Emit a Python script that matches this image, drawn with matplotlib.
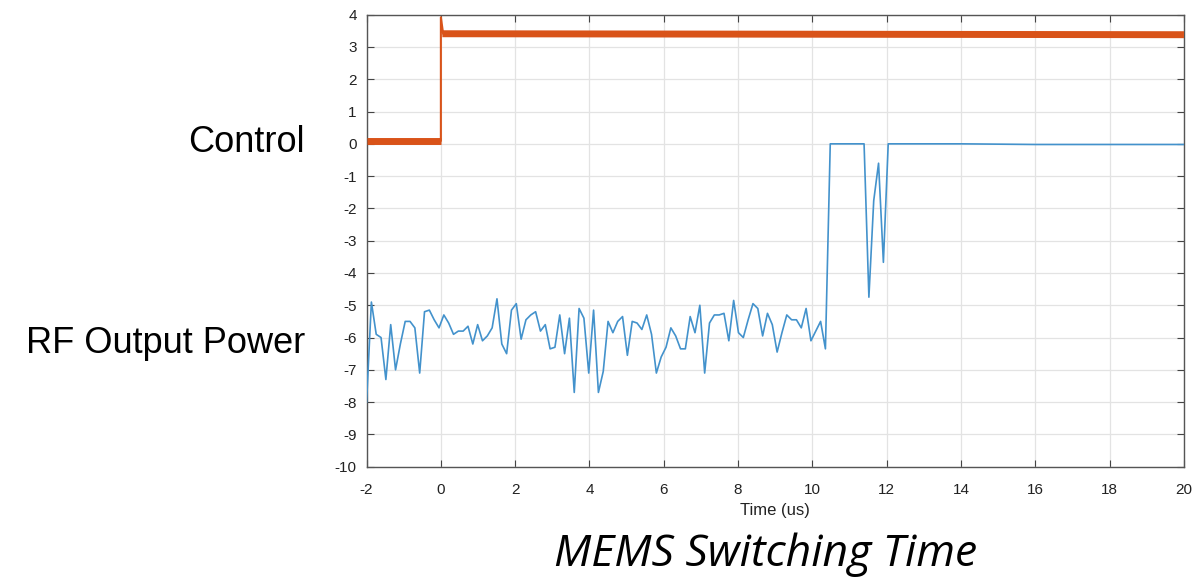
import numpy as np
import matplotlib
matplotlib.use("Agg")
import matplotlib.pyplot as plt

plt.rcParams["axes.unicode_minus"] = False

# ---- data ----
rf_t0 = -2.0
rf_dt = 0.13
rf_power = [
    -8.0, -4.9, -5.9, -6.0, -7.3, -5.6, -7.0, -6.2, -5.5, -5.5,
    -5.7, -7.1, -5.2, -5.15, -5.45, -5.7, -5.3, -5.55, -5.9, -5.8,
    -5.8, -5.65, -6.2, -5.6, -6.1, -5.95, -5.7, -4.8, -6.2, -6.5,
    -5.15, -4.95, -6.05, -5.45, -5.3, -5.2, -5.8, -5.6, -6.35, -6.3,
    -5.3, -6.5, -5.4, -7.7, -5.1, -5.4, -7.1, -5.15, -7.7,
    -7.05, -5.5, -5.85, -5.5, -5.35, -6.55, -5.5, -5.55, -5.75, -5.3,
    -5.9, -7.1, -6.6, -6.3, -5.7, -5.95, -6.35, -6.35, -5.35, -5.85,
    -5.0, -7.1, -5.55, -5.3, -5.3, -5.25, -6.1, -4.85, -5.85, -6.0,
    -5.45, -4.95, -5.1, -5.95, -5.25, -5.6, -6.45, -5.85, -5.3, -5.45,
    -5.45, -5.7, -5.1, -6.1, -5.8, -5.5, -6.35,
    0.0, 0.0, 0.0, 0.0, 0.0, 0.0, 0.0, 0.0,
    -4.75, -1.76, -0.6, -3.67, 0.0,
]
rf_tail_t = [14.0, 16.0, 18.0, 20.0]
rf_tail_v = [0.0, -0.02, -0.02, -0.02]

ctrl_low_t = [-2.0, 0.0]
ctrl_low_v = [0.1, 0.1]
ctrl_edge_t = [0.0, 0.0, 0.06]
ctrl_edge_v = [0.1, 3.92, 3.42]
ctrl_high_t = [0.04, 20.0]
ctrl_high_v = [3.41, 3.38]

x_ticks = list(range(-2, 21, 2))
y_ticks = list(range(-10, 5, 1))

# ---- figure ----
fig = plt.figure(figsize=(11.94, 5.83), dpi=100)
ax = fig.add_axes([0.307, 0.1995, 0.9916 - 0.307, 0.9748 - 0.1995])

rf_t = rf_t0 + rf_dt * np.arange(len(rf_power))
t_all = np.concatenate([rf_t, rf_tail_t])
v_all = np.concatenate([rf_power, rf_tail_v])

blue = "#4392cc"
orange = "#d95319"
ax.plot(t_all, v_all, color=blue, lw=1.2, zorder=3)
ax.plot(ctrl_low_t, ctrl_low_v, color=orange, lw=5, solid_capstyle="butt", zorder=4)
ax.plot(ctrl_high_t, ctrl_high_v, color=orange, lw=5, solid_capstyle="butt", zorder=4)
ax.plot(ctrl_edge_t, ctrl_edge_v, color=orange, lw=1.5, zorder=4)

ax.set_xlim(-2, 20)
ax.set_ylim(-10, 4)
ax.set_xticks(x_ticks)
ax.set_yticks(y_ticks)
ax.grid(True, color="#e3e3e3", lw=0.9)
ax.set_axisbelow(True)
ax.tick_params(direction="in", length=5, top=True, right=True,
               labelsize=11, color="#444444")
ax.tick_params(axis="x", pad=12)
ax.tick_params(axis="y", pad=7)
for lab in ax.get_xticklabels() + ax.get_yticklabels():
    lab.set_fontfamily("Liberation Sans")
    lab.set_color("#222222")
for sp in ax.spines.values():
    sp.set_color("#555555")
    sp.set_linewidth(1.0)
ax.set_xlabel("Time (us)", fontsize=12, family="Liberation Sans",
              color="#222222", labelpad=4)

fig.text(0.2555, 0.755, "Control", ha="right", va="center",
         fontsize=26, family="Liberation Sans")
fig.text(0.2555, 0.41, "RF Output Power", ha="right", va="center",
         fontsize=26, family="Liberation Sans")
fig.text(0.6415, 0.03, "MEMS Switching Time", ha="center", va="baseline",
         fontsize=32, family="Open Sans", style="italic")

fig.savefig("out.png", dpi=100)
